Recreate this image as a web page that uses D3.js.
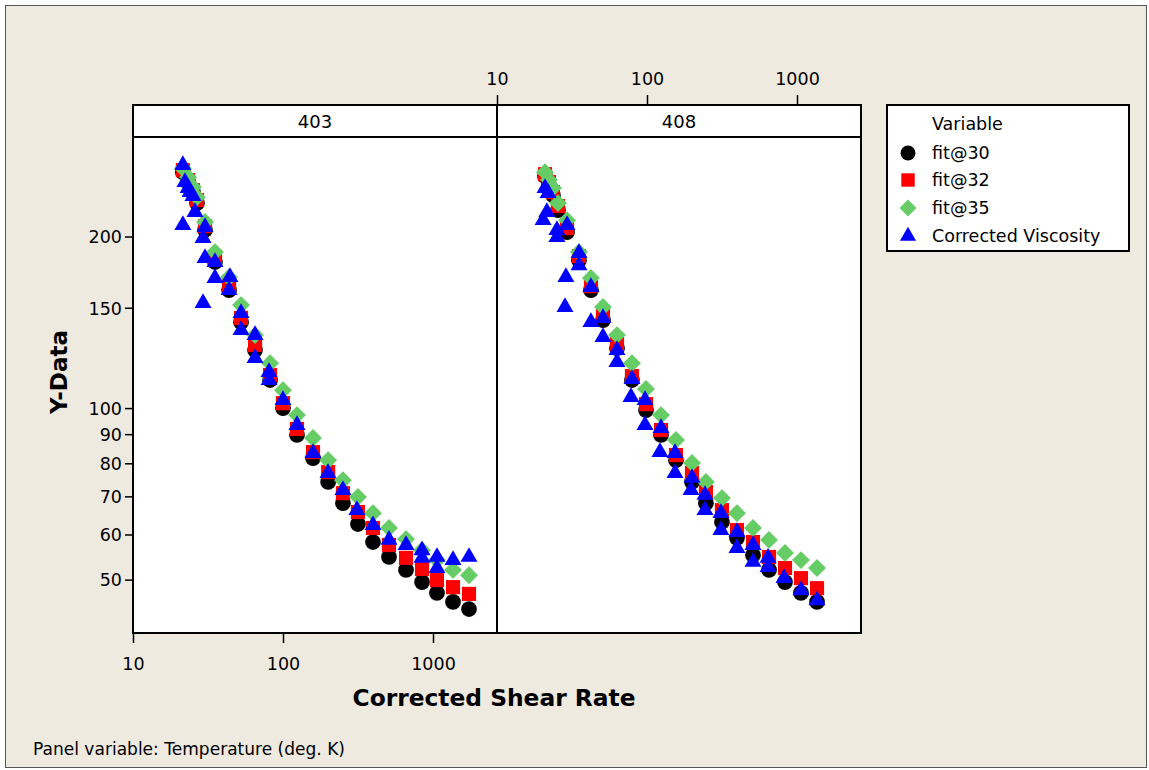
<!DOCTYPE html>
<html>
<head>
<meta charset="utf-8">
<script src="https://cdn.jsdelivr.net/npm/d3@7"></script>
<style>
	body { margin: 0; background: #fff; }
	text { font-family: 'DejaVu Sans', Verdana, sans-serif; fill: #000; }
</style>
</head>
<body>
<svg id="chart" width="1149" height="770"></svg>
<script>
const panelNames = ['403', '408']
const seriesNames = ['fit@30', 'fit@32', 'fit@35', 'Corrected Viscosity']
const xTicks = [10, 100, 1000]
const yTicks = [50, 60, 70, 80, 90, 100, 150, 200]

// Temperature 403 K
const shear403 = [21.5, 23.3, 25.1, 26.7, 30.2, 35.2, 43.7, 52.5, 65.1, 82.0, 100, 124, 158.5, 200, 251, 316, 398, 509, 661, 845, 1063, 1360, 1738]
const fit30_403 = [259.4, 249.2, 239.3, 228.9, 205.3, 180.4, 161.1, 141.5, 126.4, 112.0, 100, 89.7, 81.7, 74.2, 68.1, 62.6, 58.2, 54.8, 52.0, 49.5, 47.4, 45.7, 44.4]
const fit32_403 = [261.5, 251.2, 241.2, 231.7, 208.6, 183.3, 163.7, 143.9, 129.0, 114.3, 102.0, 91.9, 83.7, 77.2, 70.9, 65.7, 61.6, 57.5, 54.6, 52.2, 49.9, 48.5, 47.2]
const fit35_403 = [263.6, 254.2, 244.2, 234.5, 212.1, 187.8, 169.7, 151.6, 134.3, 119.9, 107.5, 97.2, 88.6, 81.0, 74.7, 69.8, 65.4, 61.6, 58.9, 56.3, 54.1, 52.0, 50.9]
const viscShear403 = [21.5, 22.2, 23.3, 24.0, 25.1, 25.9, 21.5, 30.2, 29.3, 30.2, 35.2, 35.2, 44.3, 43.7, 29.3, 52.5, 52.5, 65.1, 65.1, 80.7, 80.7, 100, 124, 158.5, 199.5, 251, 311, 398, 509, 661, 845, 845, 1063, 1063, 1360, 1738]
const visc403 = [266.9, 249.2, 243.2, 239.3, 235.5, 220.8, 209.5, 207.8, 198.7, 183.3, 180.4, 169.1, 169.7, 161.1, 152.9, 146.8, 137.0, 134.3, 122.4, 115.7, 112.0, 103.3, 93.4, 83.4, 76.9, 71.8, 66.2, 62.3, 58.7, 57.5, 56.3, 54.6, 54.8, 52.4, 54.1, 54.8]

// Temperature 408 K
const shear408 = [20.9, 22.2, 23.6, 25.5, 29.3, 35.2, 42.3, 50.9, 63.1, 79.4, 98.5, 124, 156, 199.5, 247, 316, 398, 509, 651, 832, 1063, 1360]
const fit30_408 = [255.3, 246.2, 236.4, 222.5, 203.6, 181.8, 161.1, 142.7, 127.4, 112.0, 99.2, 89.7, 81.0, 74.2, 68.1, 63.1, 59.2, 55.2, 52.0, 49.5, 47.4, 45.7]
const fit32_408 = [257.3, 249.2, 239.3, 226.2, 206.9, 184.8, 163.7, 145.0, 129.5, 113.8, 101.6, 91.5, 82.7, 76.9, 71.2, 66.2, 61.1, 58.2, 54.8, 52.4, 50.3, 48.3]
const fit35_408 = [259.4, 251.2, 243.2, 228.9, 213.7, 187.8, 169.1, 150.4, 134.3, 119.9, 108.0, 97.2, 87.9, 80.1, 74.2, 69.5, 65.4, 61.6, 58.7, 55.7, 54.1, 52.4]
const viscShear408 = [20.9, 21.9, 21.5, 20.3, 25.1, 25.1, 29.3, 35.2, 35.2, 28.8, 42.3, 28.4, 50.9, 42.3, 50.9, 63.1, 63.1, 79.4, 78.2, 97.0, 97.0, 124, 122, 153.8, 153.8, 199.5, 196.5, 243.6, 243.6, 311, 311, 398, 398, 509, 509, 641, 641, 819, 1063, 1360]
const visc408 = [243.2, 238.4, 220.8, 213.7, 205.3, 199.5, 209.5, 187.0, 178.1, 169.7, 163.1, 150.4, 143.9, 141.5, 133.2, 126.4, 120.4, 112.4, 104.5, 103.3, 93.4, 92.2, 83.7, 83.4, 76.9, 75.4, 71.8, 70.4, 66.2, 65.4, 61.1, 60.6, 56.8, 57.5, 53.7, 54.6, 52.6, 50.3, 47.9, 46.0]

const panels = [
	{ name: panelNames[0], shear: shear403, fits: [fit30_403, fit32_403, fit35_403], viscShear: viscShear403, visc: visc403 },
	{ name: panelNames[1], shear: shear408, fits: [fit30_408, fit32_408, fit35_408], viscShear: viscShear408, visc: visc408 }
]

// marker styles, one per series
const markers = [
	{ type: d3.symbolCircle, size: 195, color: '#000000', rotate: 0 },
	{ type: d3.symbolSquare, size: 200, color: '#ff0000', rotate: 0 },
	{ type: d3.symbolSquare, size: 160, color: '#66cc66', rotate: 45 },
	{ type: d3.symbolTriangle, size: 125, color: '#0000ff', rotate: 0 }
]

const svg = d3.select('#chart')

// background frame
svg.append('rect')
	.attr('x', 5.5).attr('y', 5.5)
	.attr('width', 1141).attr('height', 762)
	.attr('fill', '#eeeae0')
	.attr('stroke', '#555')
	.attr('stroke-width', 1)

const panelW = 364
const left0 = 133
const stripTop = 105
const plotTop = 137
const plotBottom = 633

const y = d3.scaleLog().domain([40.3, 299]).range([plotBottom, plotTop])

panels.forEach((p, i) => {
	const x0 = left0 + i * panelW
	const x = d3.scaleLog().domain([10, 2671]).range([x0, x0 + panelW])
	p.x = x

	const g = svg.append('g')

	g.append('rect')
		.attr('x', x0).attr('y', plotTop)
		.attr('width', panelW).attr('height', plotBottom - plotTop)
		.attr('fill', '#fff')

	g.append('rect')
		.attr('x', x0).attr('y', stripTop)
		.attr('width', panelW).attr('height', plotTop - stripTop)
		.attr('fill', '#fff')

	g.append('text')
		.attr('x', x0 + panelW / 2)
		.attr('y', 128)
		.attr('text-anchor', 'middle')
		.style('font-size', '18px')
		.text(p.name)

	// fits first, measured viscosity on top
	p.fits.forEach((vals, k) => {
		const m = markers[k]
		g.selectAll('.pt' + k)
			.data(p.shear.map((s, j) => [s, vals[j]]))
			.enter()
			.append('path')
			.attr('class', 'pt' + k)
			.attr('d', d3.symbol().type(m.type).size(m.size))
			.attr('fill', m.color)
			.attr('transform', d => `translate(${x(d[0])},${y(d[1])}) rotate(${m.rotate})`)
	})

	const mv = markers[3]
	g.selectAll('.visc')
		.data(p.viscShear.map((s, j) => [s, p.visc[j]]))
		.enter()
		.append('path')
		.attr('class', 'visc')
		.attr('d', d3.symbol().type(mv.type).size(mv.size))
		.attr('fill', mv.color)
		.attr('transform', d => `translate(${x(d[0])},${y(d[1])})`)
})

// panel borders
const borders = svg.append('g')
	.attr('fill', 'none')
	.attr('stroke', '#000')
	.attr('stroke-width', 2)
borders.append('rect')
	.attr('x', left0).attr('y', stripTop)
	.attr('width', panelW * 2).attr('height', plotBottom - stripTop)
borders.append('line')
	.attr('x1', left0).attr('x2', left0 + panelW * 2)
	.attr('y1', plotTop).attr('y2', plotTop)
borders.append('line')
	.attr('x1', left0 + panelW).attr('x2', left0 + panelW)
	.attr('y1', stripTop).attr('y2', plotBottom)

function styleAxis(g) {
	g.select('.domain').remove()
	g.selectAll('.tick line').attr('stroke', '#000').attr('stroke-width', 1.5)
	g.selectAll('.tick text')
		.style('font-size', '17.5px')
		.style('font-family', "'DejaVu Sans', Verdana, sans-serif")
		.attr('fill', '#000')
}

// y axis (left panel only)
svg.append('g')
	.attr('transform', `translate(${left0},0)`)
	.call(d3.axisLeft(y).tickValues(yTicks).tickFormat(d3.format('d')).tickSize(8).tickPadding(3))
	.call(styleAxis)
	.call(g => g.selectAll('.tick text').attr('dy', '0.36em'))

// bottom x axis under left panel
svg.append('g')
	.attr('transform', `translate(0,${plotBottom})`)
	.call(d3.axisBottom(panels[0].x).tickValues(xTicks).tickFormat(d3.format('d')).tickSize(10))
	.call(styleAxis)
	.call(g => g.selectAll('.tick text').attr('y', 37).attr('dy', 0))

// top x axis above right panel
svg.append('g')
	.attr('transform', `translate(0,${stripTop})`)
	.call(d3.axisTop(panels[1].x).tickValues(xTicks).tickFormat(d3.format('d')).tickSize(10))
	.call(styleAxis)
	.call(g => g.selectAll('.tick text').attr('y', -20).attr('dy', 0))

// axis titles
svg.append('text')
	.attr('x', 494)
	.attr('y', 706)
	.attr('text-anchor', 'middle')
	.style('font-size', '23px')
	.style('font-weight', 'bold')
	.attr('textLength', 283)
	.attr('lengthAdjust', 'spacingAndGlyphs')
	.text('Corrected Shear Rate')

svg.append('text')
	.attr('transform', 'translate(67,372) rotate(-90)')
	.attr('text-anchor', 'middle')
	.style('font-size', '23px')
	.style('font-weight', 'bold')
	.text('Y-Data')

svg.append('text')
	.attr('x', 33)
	.attr('y', 755)
	.style('font-size', '18px')
	.attr('textLength', 312)
	.attr('lengthAdjust', 'spacingAndGlyphs')
	.text('Panel variable: Temperature (deg. K)')

// legend
const legend = svg.append('g')
legend.append('rect')
	.attr('x', 887).attr('y', 105)
	.attr('width', 242).attr('height', 146)
	.attr('fill', '#fff')
	.attr('stroke', '#000')
	.attr('stroke-width', 2)
legend.append('text')
	.attr('x', 932).attr('y', 130)
	.style('font-size', '17.5px')
	.text('Variable')

const legendY = [153, 180, 208, 236]
seriesNames.forEach((name, k) => {
	const m = markers[k]
	legend.append('path')
		.attr('d', d3.symbol().type(m.type).size(m.size * 0.9))
		.attr('fill', m.color)
		.attr('transform', `translate(908,${legendY[k]}) rotate(${m.rotate})`)
	legend.append('text')
		.attr('x', 932).attr('y', legendY[k] + 6)
		.style('font-size', '17.5px')
		.text(name)
})
</script>
</body>
</html>
